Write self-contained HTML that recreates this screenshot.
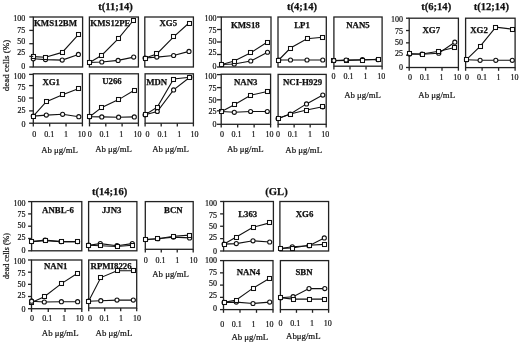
<!DOCTYPE html>
<html><head><meta charset="utf-8"><style>
html,body{margin:0;padding:0;background:#fff;}
svg{filter:blur(0.3px);will-change:transform;display:block;font-family:"Liberation Serif", serif;}
.r{stroke:#111;stroke-width:0.2px;}
.b{stroke:#111;stroke-width:0.25px;}
</style></head><body>
<svg width="520" height="344" viewBox="0 0 520 344">
<rect width="520" height="344" fill="#fff"/>
<g fill="#111">
<path d="M33.30,56.60 L45.50,57.30 L62.20,52.40 L78.40,34.60" fill="none" stroke="#111" stroke-width="1.1"/>
<path d="M33.30,58.80 L45.50,59.60 L62.20,60.10 L78.40,54.40" fill="none" stroke="#111" stroke-width="1.1"/>
<rect x="33.3" y="17" width="49.30" height="50.00" fill="none" stroke="#222" stroke-width="1.3"/>
<text x="55.5" y="26.00" class="b" text-anchor="middle" font-weight="bold" font-size="8.8">KMS12BM</text>
<circle cx="33.3" cy="58.8" r="2.05" fill="#fff" stroke="#111" stroke-width="1.1"/>
<circle cx="45.5" cy="59.6" r="2.05" fill="#fff" stroke="#111" stroke-width="1.1"/>
<circle cx="62.2" cy="60.1" r="2.05" fill="#fff" stroke="#111" stroke-width="1.1"/>
<circle cx="78.4" cy="54.4" r="2.05" fill="#fff" stroke="#111" stroke-width="1.1"/>
<rect x="31.50" y="54.50" width="4" height="4" fill="#fff" stroke="#111" stroke-width="1.05"/>
<rect x="43.50" y="55.50" width="4" height="4" fill="#fff" stroke="#111" stroke-width="1.05"/>
<rect x="60.50" y="50.50" width="4" height="4" fill="#fff" stroke="#111" stroke-width="1.05"/>
<rect x="76.50" y="32.50" width="4" height="4" fill="#fff" stroke="#111" stroke-width="1.05"/>
<line x1="29.30" y1="67.00" x2="33.3" y2="67.00" stroke="#222" stroke-width="1.3"/>
<text x="25.30" y="69.45" class="r" text-anchor="end" font-size="8.0">0</text>
<line x1="29.30" y1="56.40" x2="33.3" y2="56.40" stroke="#222" stroke-width="1.3"/>
<text x="25.30" y="55.40" class="r" text-anchor="end" font-size="8.0">25</text>
<line x1="29.30" y1="43.70" x2="33.3" y2="43.70" stroke="#222" stroke-width="1.3"/>
<text x="25.30" y="43.70" class="r" text-anchor="end" font-size="8.0">50</text>
<line x1="29.30" y1="30.40" x2="33.3" y2="30.40" stroke="#222" stroke-width="1.3"/>
<text x="25.30" y="32.70" class="r" text-anchor="end" font-size="8.0">75</text>
<line x1="29.30" y1="17.00" x2="33.3" y2="17.00" stroke="#222" stroke-width="1.3"/>
<text x="25.30" y="20.75" class="r" text-anchor="end" font-size="8.0">100</text>
<path d="M89.60,62.50 L101.80,55.20 L118.10,38.90 L133.70,20.00" fill="none" stroke="#111" stroke-width="1.1"/>
<path d="M89.60,62.50 L101.80,62.00 L118.10,60.40 L133.70,57.10" fill="none" stroke="#111" stroke-width="1.1"/>
<rect x="89.4" y="17" width="49.00" height="50.00" fill="none" stroke="#222" stroke-width="1.3"/>
<text x="110.4" y="26.00" class="b" text-anchor="middle" font-weight="bold" font-size="8.8">KMS12PE</text>
<circle cx="89.6" cy="62.5" r="2.05" fill="#fff" stroke="#111" stroke-width="1.1"/>
<circle cx="101.8" cy="62" r="2.05" fill="#fff" stroke="#111" stroke-width="1.1"/>
<circle cx="118.1" cy="60.4" r="2.05" fill="#fff" stroke="#111" stroke-width="1.1"/>
<circle cx="133.7" cy="57.1" r="2.05" fill="#fff" stroke="#111" stroke-width="1.1"/>
<rect x="87.50" y="60.50" width="4" height="4" fill="#fff" stroke="#111" stroke-width="1.05"/>
<rect x="99.50" y="53.50" width="4" height="4" fill="#fff" stroke="#111" stroke-width="1.05"/>
<rect x="116.50" y="36.50" width="4" height="4" fill="#fff" stroke="#111" stroke-width="1.05"/>
<rect x="131.50" y="18.50" width="4" height="4" fill="#fff" stroke="#111" stroke-width="1.05"/>
<path d="M145.10,58.00 L156.80,53.90 L173.60,36.80 L189.00,23.00" fill="none" stroke="#111" stroke-width="1.1"/>
<path d="M145.10,58.00 L156.80,57.10 L173.60,55.50 L189.00,51.40" fill="none" stroke="#111" stroke-width="1.1"/>
<rect x="144.8" y="17" width="48.60" height="50.00" fill="none" stroke="#222" stroke-width="1.3"/>
<text x="168.3" y="26.30" class="b" text-anchor="middle" font-weight="bold" font-size="8.8">XG5</text>
<circle cx="145.1" cy="58" r="2.05" fill="#fff" stroke="#111" stroke-width="1.1"/>
<circle cx="156.8" cy="57.1" r="2.05" fill="#fff" stroke="#111" stroke-width="1.1"/>
<circle cx="173.6" cy="55.5" r="2.05" fill="#fff" stroke="#111" stroke-width="1.1"/>
<circle cx="189" cy="51.4" r="2.05" fill="#fff" stroke="#111" stroke-width="1.1"/>
<rect x="143.50" y="56.50" width="4" height="4" fill="#fff" stroke="#111" stroke-width="1.05"/>
<rect x="154.50" y="51.50" width="4" height="4" fill="#fff" stroke="#111" stroke-width="1.05"/>
<rect x="171.50" y="34.50" width="4" height="4" fill="#fff" stroke="#111" stroke-width="1.05"/>
<rect x="187.50" y="21.50" width="4" height="4" fill="#fff" stroke="#111" stroke-width="1.05"/>
<path d="M33.30,116.10 L46.30,101.70 L62.60,94.70 L78.80,88.40" fill="none" stroke="#111" stroke-width="1.1"/>
<path d="M33.30,116.10 L46.30,115.10 L62.60,114.30 L78.80,116.70" fill="none" stroke="#111" stroke-width="1.1"/>
<rect x="33.3" y="73.8" width="49.10" height="49.40" fill="none" stroke="#222" stroke-width="1.3"/>
<text x="51.2" y="84.70" class="b" text-anchor="middle" font-weight="bold" font-size="8.8">XG1</text>
<circle cx="33.3" cy="116.1" r="2.05" fill="#fff" stroke="#111" stroke-width="1.1"/>
<circle cx="46.3" cy="115.1" r="2.05" fill="#fff" stroke="#111" stroke-width="1.1"/>
<circle cx="62.6" cy="114.3" r="2.05" fill="#fff" stroke="#111" stroke-width="1.1"/>
<circle cx="78.8" cy="116.7" r="2.05" fill="#fff" stroke="#111" stroke-width="1.1"/>
<rect x="31.50" y="114.50" width="4" height="4" fill="#fff" stroke="#111" stroke-width="1.05"/>
<rect x="44.50" y="99.50" width="4" height="4" fill="#fff" stroke="#111" stroke-width="1.05"/>
<rect x="60.50" y="92.50" width="4" height="4" fill="#fff" stroke="#111" stroke-width="1.05"/>
<rect x="76.50" y="86.50" width="4" height="4" fill="#fff" stroke="#111" stroke-width="1.05"/>
<line x1="29.10" y1="123.20" x2="33.3" y2="123.20" stroke="#222" stroke-width="1.3"/>
<text x="25.60" y="127.10" class="r" text-anchor="end" font-size="8.0">0</text>
<line x1="29.10" y1="110.90" x2="33.3" y2="110.90" stroke="#222" stroke-width="1.3"/>
<text x="25.60" y="113.30" class="r" text-anchor="end" font-size="8.0">25</text>
<line x1="29.10" y1="98.00" x2="33.3" y2="98.00" stroke="#222" stroke-width="1.3"/>
<text x="25.60" y="101.70" class="r" text-anchor="end" font-size="8.0">50</text>
<line x1="29.10" y1="85.60" x2="33.3" y2="85.60" stroke="#222" stroke-width="1.3"/>
<text x="25.60" y="90.00" class="r" text-anchor="end" font-size="8.0">75</text>
<line x1="29.10" y1="74.40" x2="33.3" y2="74.40" stroke="#222" stroke-width="1.3"/>
<text x="25.60" y="79.00" class="r" text-anchor="end" font-size="8.0">100</text>
<line x1="33.30" y1="123.2" x2="33.30" y2="126.40" stroke="#222" stroke-width="1.3"/>
<text x="34.30" y="136.80" class="r" text-anchor="middle" font-size="8.0">0</text>
<line x1="49.67" y1="123.2" x2="49.67" y2="126.40" stroke="#222" stroke-width="1.3"/>
<text x="49.20" y="136.80" class="r" text-anchor="middle" font-size="8.0">0.1</text>
<line x1="66.03" y1="123.2" x2="66.03" y2="126.40" stroke="#222" stroke-width="1.3"/>
<text x="66.10" y="136.80" class="r" text-anchor="middle" font-size="8.0">1</text>
<line x1="82.40" y1="123.2" x2="82.40" y2="126.40" stroke="#222" stroke-width="1.3"/>
<text x="81.70" y="136.80" class="r" text-anchor="middle" font-size="8.0">10</text>
<path d="M89.60,116.70 L101.80,107.40 L118.60,99.60 L134.30,90.30" fill="none" stroke="#111" stroke-width="1.1"/>
<path d="M89.60,116.70 L101.80,116.90 L118.60,117.20 L134.30,116.90" fill="none" stroke="#111" stroke-width="1.1"/>
<rect x="89.5" y="73.8" width="48.90" height="49.40" fill="none" stroke="#222" stroke-width="1.3"/>
<text x="112" y="84.40" class="b" text-anchor="middle" font-weight="bold" font-size="8.8">U266</text>
<circle cx="89.6" cy="116.7" r="2.05" fill="#fff" stroke="#111" stroke-width="1.1"/>
<circle cx="101.8" cy="116.9" r="2.05" fill="#fff" stroke="#111" stroke-width="1.1"/>
<circle cx="118.6" cy="117.2" r="2.05" fill="#fff" stroke="#111" stroke-width="1.1"/>
<circle cx="134.3" cy="116.9" r="2.05" fill="#fff" stroke="#111" stroke-width="1.1"/>
<rect x="87.50" y="114.50" width="4" height="4" fill="#fff" stroke="#111" stroke-width="1.05"/>
<rect x="99.50" y="105.50" width="4" height="4" fill="#fff" stroke="#111" stroke-width="1.05"/>
<rect x="116.50" y="97.50" width="4" height="4" fill="#fff" stroke="#111" stroke-width="1.05"/>
<rect x="132.50" y="88.50" width="4" height="4" fill="#fff" stroke="#111" stroke-width="1.05"/>
<line x1="89.50" y1="123.2" x2="89.50" y2="126.40" stroke="#222" stroke-width="1.3"/>
<text x="89.80" y="136.90" class="r" text-anchor="middle" font-size="8.0">0</text>
<line x1="105.80" y1="123.2" x2="105.80" y2="126.40" stroke="#222" stroke-width="1.3"/>
<text x="104.50" y="136.90" class="r" text-anchor="middle" font-size="8.0">0.1</text>
<line x1="122.10" y1="123.2" x2="122.10" y2="126.40" stroke="#222" stroke-width="1.3"/>
<text x="121.20" y="136.90" class="r" text-anchor="middle" font-size="8.0">1</text>
<line x1="138.40" y1="123.2" x2="138.40" y2="126.40" stroke="#222" stroke-width="1.3"/>
<text x="137.40" y="136.90" class="r" text-anchor="middle" font-size="8.0">10</text>
<path d="M145.10,114.80 L157.30,107.10 L173.60,79.00 L189.80,77.30" fill="none" stroke="#111" stroke-width="1.1"/>
<path d="M145.10,114.80 L157.30,111.50 L173.60,89.90 L189.80,77.30" fill="none" stroke="#111" stroke-width="1.1"/>
<rect x="145.1" y="73.8" width="48.30" height="49.40" fill="none" stroke="#222" stroke-width="1.3"/>
<text x="156.7" y="84.70" class="b" text-anchor="middle" font-weight="bold" font-size="8.8">MDN</text>
<circle cx="145.1" cy="114.8" r="2.05" fill="#fff" stroke="#111" stroke-width="1.1"/>
<circle cx="157.3" cy="111.5" r="2.05" fill="#fff" stroke="#111" stroke-width="1.1"/>
<circle cx="173.6" cy="89.9" r="2.05" fill="#fff" stroke="#111" stroke-width="1.1"/>
<circle cx="189.8" cy="77.3" r="2.05" fill="#fff" stroke="#111" stroke-width="1.1"/>
<rect x="143.50" y="112.50" width="4" height="4" fill="#fff" stroke="#111" stroke-width="1.05"/>
<rect x="155.50" y="105.50" width="4" height="4" fill="#fff" stroke="#111" stroke-width="1.05"/>
<rect x="171.50" y="77.50" width="4" height="4" fill="#fff" stroke="#111" stroke-width="1.05"/>
<rect x="187.50" y="75.50" width="4" height="4" fill="#fff" stroke="#111" stroke-width="1.05"/>
<line x1="145.10" y1="123.2" x2="145.10" y2="126.40" stroke="#222" stroke-width="1.3"/>
<text x="147.50" y="136.80" class="r" text-anchor="middle" font-size="8.0">0</text>
<line x1="161.20" y1="123.2" x2="161.20" y2="126.40" stroke="#222" stroke-width="1.3"/>
<text x="162.50" y="136.80" class="r" text-anchor="middle" font-size="8.0">0.1</text>
<line x1="177.30" y1="123.2" x2="177.30" y2="126.40" stroke="#222" stroke-width="1.3"/>
<text x="179.20" y="136.80" class="r" text-anchor="middle" font-size="8.0">1</text>
<line x1="193.40" y1="123.2" x2="193.40" y2="126.40" stroke="#222" stroke-width="1.3"/>
<text x="194.50" y="136.80" class="r" text-anchor="middle" font-size="8.0">10</text>
<path d="M221.75,64.50 L234.25,61.00 L250.75,52.75 L267.50,42.00" fill="none" stroke="#111" stroke-width="1.1"/>
<path d="M221.75,64.50 L234.25,64.00 L250.75,61.00 L267.50,52.25" fill="none" stroke="#111" stroke-width="1.1"/>
<rect x="221.3" y="17" width="49.70" height="50.00" fill="none" stroke="#222" stroke-width="1.3"/>
<text x="245.3" y="28.00" class="b" text-anchor="middle" font-weight="bold" font-size="8.8">KMS18</text>
<circle cx="221.75" cy="64.5" r="2.05" fill="#fff" stroke="#111" stroke-width="1.1"/>
<circle cx="234.25" cy="64" r="2.05" fill="#fff" stroke="#111" stroke-width="1.1"/>
<circle cx="250.75" cy="61" r="2.05" fill="#fff" stroke="#111" stroke-width="1.1"/>
<circle cx="267.5" cy="52.25" r="2.05" fill="#fff" stroke="#111" stroke-width="1.1"/>
<rect x="219.50" y="62.50" width="4" height="4" fill="#fff" stroke="#111" stroke-width="1.05"/>
<rect x="232.50" y="59.50" width="4" height="4" fill="#fff" stroke="#111" stroke-width="1.05"/>
<rect x="248.50" y="50.50" width="4" height="4" fill="#fff" stroke="#111" stroke-width="1.05"/>
<rect x="265.50" y="40.50" width="4" height="4" fill="#fff" stroke="#111" stroke-width="1.05"/>
<line x1="217.00" y1="67.00" x2="221.3" y2="67.00" stroke="#222" stroke-width="1.3"/>
<text x="216.60" y="69.10" class="r" text-anchor="end" font-size="8.0">0</text>
<line x1="217.00" y1="54.50" x2="221.3" y2="54.50" stroke="#222" stroke-width="1.3"/>
<text x="216.60" y="55.40" class="r" text-anchor="end" font-size="8.0">25</text>
<line x1="217.00" y1="42.00" x2="221.3" y2="42.00" stroke="#222" stroke-width="1.3"/>
<text x="216.60" y="44.20" class="r" text-anchor="end" font-size="8.0">50</text>
<line x1="217.00" y1="29.50" x2="221.3" y2="29.50" stroke="#222" stroke-width="1.3"/>
<text x="216.60" y="32.70" class="r" text-anchor="end" font-size="8.0">75</text>
<line x1="217.00" y1="17.00" x2="221.3" y2="17.00" stroke="#222" stroke-width="1.3"/>
<text x="216.60" y="21.00" class="r" text-anchor="end" font-size="8.0">100</text>
<path d="M278.75,60.00 L290.50,48.00 L307.00,38.75 L322.75,37.25" fill="none" stroke="#111" stroke-width="1.1"/>
<path d="M278.75,60.00 L290.50,60.00 L307.00,60.00 L322.75,60.00" fill="none" stroke="#111" stroke-width="1.1"/>
<rect x="278" y="17" width="48.30" height="50.00" fill="none" stroke="#222" stroke-width="1.3"/>
<text x="302" y="28.00" class="b" text-anchor="middle" font-weight="bold" font-size="8.8">LP1</text>
<circle cx="278.75" cy="60" r="2.05" fill="#fff" stroke="#111" stroke-width="1.1"/>
<circle cx="290.5" cy="60" r="2.05" fill="#fff" stroke="#111" stroke-width="1.1"/>
<circle cx="307" cy="60" r="2.05" fill="#fff" stroke="#111" stroke-width="1.1"/>
<circle cx="322.75" cy="60" r="2.05" fill="#fff" stroke="#111" stroke-width="1.1"/>
<rect x="276.50" y="58.50" width="4" height="4" fill="#fff" stroke="#111" stroke-width="1.05"/>
<rect x="288.50" y="46.50" width="4" height="4" fill="#fff" stroke="#111" stroke-width="1.05"/>
<rect x="305.50" y="36.50" width="4" height="4" fill="#fff" stroke="#111" stroke-width="1.05"/>
<rect x="320.50" y="35.50" width="4" height="4" fill="#fff" stroke="#111" stroke-width="1.05"/>
<path d="M333.90,60.80 L346.10,60.40 L362.40,60.00 L378.00,59.30" fill="none" stroke="#111" stroke-width="1.1"/>
<path d="M333.90,60.50 L346.10,60.00 L362.40,59.70 L378.00,59.60" fill="none" stroke="#111" stroke-width="1.1"/>
<rect x="333.9" y="17" width="48.20" height="49.20" fill="none" stroke="#222" stroke-width="1.3"/>
<text x="358" y="28.00" class="b" text-anchor="middle" font-weight="bold" font-size="8.8">NAN5</text>
<rect x="331.50" y="58.50" width="4" height="4" fill="#fff" stroke="#111" stroke-width="1.05"/>
<circle cx="333.9" cy="60.5" r="2.05" fill="#fff" stroke="#111" stroke-width="1.1"/>
<rect x="344.50" y="58.50" width="4" height="4" fill="#fff" stroke="#111" stroke-width="1.05"/>
<circle cx="346.1" cy="60.0" r="2.05" fill="#fff" stroke="#111" stroke-width="1.1"/>
<circle cx="362.4" cy="59.7" r="2.05" fill="#fff" stroke="#111" stroke-width="1.1"/>
<rect x="360.50" y="58.50" width="4" height="4" fill="#fff" stroke="#111" stroke-width="1.05"/>
<circle cx="378" cy="59.6" r="2.05" fill="#fff" stroke="#111" stroke-width="1.1"/>
<rect x="376.50" y="57.50" width="4" height="4" fill="#fff" stroke="#111" stroke-width="1.05"/>
<line x1="333.90" y1="66.2" x2="333.90" y2="69.40" stroke="#222" stroke-width="1.3"/>
<text x="333.50" y="79.10" class="r" text-anchor="middle" font-size="8.0">0</text>
<line x1="349.97" y1="66.2" x2="349.97" y2="69.40" stroke="#222" stroke-width="1.3"/>
<text x="348.60" y="79.10" class="r" text-anchor="middle" font-size="8.0">0.1</text>
<line x1="366.03" y1="66.2" x2="366.03" y2="69.40" stroke="#222" stroke-width="1.3"/>
<text x="365.60" y="79.10" class="r" text-anchor="middle" font-size="8.0">1</text>
<line x1="382.10" y1="66.2" x2="382.10" y2="69.40" stroke="#222" stroke-width="1.3"/>
<text x="381.20" y="79.10" class="r" text-anchor="middle" font-size="8.0">10</text>
<path d="M221.60,111.50 L234.30,104.70 L250.60,95.20 L267.30,91.50" fill="none" stroke="#111" stroke-width="1.1"/>
<path d="M221.60,111.50 L234.30,112.30 L250.60,111.50 L267.30,111.50" fill="none" stroke="#111" stroke-width="1.1"/>
<rect x="221.2" y="74.2" width="49.40" height="50.10" fill="none" stroke="#222" stroke-width="1.3"/>
<text x="245.7" y="85.20" class="b" text-anchor="middle" font-weight="bold" font-size="8.8">NAN3</text>
<circle cx="221.6" cy="111.5" r="2.05" fill="#fff" stroke="#111" stroke-width="1.1"/>
<circle cx="234.3" cy="112.3" r="2.05" fill="#fff" stroke="#111" stroke-width="1.1"/>
<circle cx="250.6" cy="111.5" r="2.05" fill="#fff" stroke="#111" stroke-width="1.1"/>
<circle cx="267.3" cy="111.5" r="2.05" fill="#fff" stroke="#111" stroke-width="1.1"/>
<rect x="219.50" y="109.50" width="4" height="4" fill="#fff" stroke="#111" stroke-width="1.05"/>
<rect x="232.50" y="102.50" width="4" height="4" fill="#fff" stroke="#111" stroke-width="1.05"/>
<rect x="248.50" y="93.50" width="4" height="4" fill="#fff" stroke="#111" stroke-width="1.05"/>
<rect x="265.50" y="89.50" width="4" height="4" fill="#fff" stroke="#111" stroke-width="1.05"/>
<line x1="216.90" y1="124.30" x2="221.2" y2="124.30" stroke="#222" stroke-width="1.3"/>
<text x="216.60" y="127.40" class="r" text-anchor="end" font-size="8.0">0</text>
<line x1="216.90" y1="110.80" x2="221.2" y2="110.80" stroke="#222" stroke-width="1.3"/>
<text x="216.60" y="113.90" class="r" text-anchor="end" font-size="8.0">25</text>
<line x1="216.90" y1="99.80" x2="221.2" y2="99.80" stroke="#222" stroke-width="1.3"/>
<text x="216.60" y="102.60" class="r" text-anchor="end" font-size="8.0">50</text>
<line x1="216.90" y1="87.60" x2="221.2" y2="87.60" stroke="#222" stroke-width="1.3"/>
<text x="216.60" y="90.70" class="r" text-anchor="end" font-size="8.0">75</text>
<line x1="216.90" y1="74.60" x2="221.2" y2="74.60" stroke="#222" stroke-width="1.3"/>
<text x="216.60" y="79.00" class="r" text-anchor="end" font-size="8.0">100</text>
<line x1="221.20" y1="124.3" x2="221.20" y2="127.50" stroke="#222" stroke-width="1.3"/>
<text x="222.00" y="137.00" class="r" text-anchor="middle" font-size="8.0">0</text>
<line x1="237.67" y1="124.3" x2="237.67" y2="127.50" stroke="#222" stroke-width="1.3"/>
<text x="236.60" y="137.00" class="r" text-anchor="middle" font-size="8.0">0.1</text>
<line x1="254.13" y1="124.3" x2="254.13" y2="127.50" stroke="#222" stroke-width="1.3"/>
<text x="253.50" y="137.00" class="r" text-anchor="middle" font-size="8.0">1</text>
<line x1="270.60" y1="124.3" x2="270.60" y2="127.50" stroke="#222" stroke-width="1.3"/>
<text x="269.40" y="137.00" class="r" text-anchor="middle" font-size="8.0">10</text>
<path d="M278.10,118.50 L290.30,114.00 L306.50,110.00 L322.80,106.80" fill="none" stroke="#111" stroke-width="1.1"/>
<path d="M278.10,118.50 L290.30,114.00 L306.50,103.90 L322.80,95.10" fill="none" stroke="#111" stroke-width="1.1"/>
<rect x="278.1" y="74.4" width="48.10" height="49.90" fill="none" stroke="#222" stroke-width="1.3"/>
<text x="302.5" y="85.20" class="b" text-anchor="middle" font-weight="bold" font-size="8.8">NCI-H929</text>
<circle cx="278.1" cy="118.5" r="2.05" fill="#fff" stroke="#111" stroke-width="1.1"/>
<circle cx="290.3" cy="114" r="2.05" fill="#fff" stroke="#111" stroke-width="1.1"/>
<circle cx="306.5" cy="103.9" r="2.05" fill="#fff" stroke="#111" stroke-width="1.1"/>
<circle cx="322.8" cy="95.1" r="2.05" fill="#fff" stroke="#111" stroke-width="1.1"/>
<circle cx="322.8" cy="106.8" r="2.05" fill="#fff" stroke="#111" stroke-width="1.1"/>
<rect x="276.50" y="116.50" width="4" height="4" fill="#fff" stroke="#111" stroke-width="1.05"/>
<rect x="288.50" y="112.50" width="4" height="4" fill="#fff" stroke="#111" stroke-width="1.05"/>
<rect x="304.50" y="108.50" width="4" height="4" fill="#fff" stroke="#111" stroke-width="1.05"/>
<rect x="320.50" y="104.50" width="4" height="4" fill="#fff" stroke="#111" stroke-width="1.05"/>
<line x1="278.10" y1="124.3" x2="278.10" y2="127.50" stroke="#222" stroke-width="1.3"/>
<text x="278.10" y="137.20" class="r" text-anchor="middle" font-size="8.0">0</text>
<line x1="294.13" y1="124.3" x2="294.13" y2="127.50" stroke="#222" stroke-width="1.3"/>
<text x="292.80" y="137.20" class="r" text-anchor="middle" font-size="8.0">0.1</text>
<line x1="310.17" y1="124.3" x2="310.17" y2="127.50" stroke="#222" stroke-width="1.3"/>
<text x="309.90" y="137.20" class="r" text-anchor="middle" font-size="8.0">1</text>
<line x1="326.20" y1="124.3" x2="326.20" y2="127.50" stroke="#222" stroke-width="1.3"/>
<text x="325.30" y="137.20" class="r" text-anchor="middle" font-size="8.0">10</text>
<path d="M409.60,53.90 L422.00,54.00 L438.75,51.25 L454.80,47.50" fill="none" stroke="#111" stroke-width="1.1"/>
<path d="M409.60,54.00 L422.00,54.20 L438.75,53.25 L454.80,42.20" fill="none" stroke="#111" stroke-width="1.1"/>
<rect x="409.2" y="18.2" width="49.20" height="49.30" fill="none" stroke="#222" stroke-width="1.3"/>
<text x="431.25" y="32.50" class="b" text-anchor="middle" font-weight="bold" font-size="8.8">XG7</text>
<circle cx="409.6" cy="54" r="2.05" fill="#fff" stroke="#111" stroke-width="1.1"/>
<circle cx="422" cy="54.2" r="2.05" fill="#fff" stroke="#111" stroke-width="1.1"/>
<circle cx="438.75" cy="53.25" r="2.05" fill="#fff" stroke="#111" stroke-width="1.1"/>
<circle cx="454.8" cy="42.2" r="2.05" fill="#fff" stroke="#111" stroke-width="1.1"/>
<rect x="407.50" y="51.50" width="4" height="4" fill="#fff" stroke="#111" stroke-width="1.05"/>
<rect x="420.50" y="52.50" width="4" height="4" fill="#fff" stroke="#111" stroke-width="1.05"/>
<rect x="436.50" y="49.50" width="4" height="4" fill="#fff" stroke="#111" stroke-width="1.05"/>
<rect x="452.50" y="45.50" width="4" height="4" fill="#fff" stroke="#111" stroke-width="1.05"/>
<line x1="406.00" y1="67.50" x2="409.2" y2="67.50" stroke="#222" stroke-width="1.3"/>
<text x="402.90" y="69.90" class="r" text-anchor="end" font-size="8.0">0</text>
<line x1="406.00" y1="55.17" x2="409.2" y2="55.17" stroke="#222" stroke-width="1.3"/>
<text x="402.90" y="55.90" class="r" text-anchor="end" font-size="8.0">25</text>
<line x1="406.00" y1="42.85" x2="409.2" y2="42.85" stroke="#222" stroke-width="1.3"/>
<text x="402.90" y="45.10" class="r" text-anchor="end" font-size="8.0">50</text>
<line x1="406.00" y1="30.53" x2="409.2" y2="30.53" stroke="#222" stroke-width="1.3"/>
<text x="402.90" y="34.10" class="r" text-anchor="end" font-size="8.0">75</text>
<line x1="406.00" y1="18.20" x2="409.2" y2="18.20" stroke="#222" stroke-width="1.3"/>
<text x="402.90" y="21.80" class="r" text-anchor="end" font-size="8.0">100</text>
<line x1="409.20" y1="67.5" x2="409.20" y2="70.70" stroke="#222" stroke-width="1.3"/>
<text x="410.00" y="79.90" class="r" text-anchor="middle" font-size="8.0">0</text>
<line x1="425.60" y1="67.5" x2="425.60" y2="70.70" stroke="#222" stroke-width="1.3"/>
<text x="424.80" y="79.90" class="r" text-anchor="middle" font-size="8.0">0.1</text>
<line x1="442.00" y1="67.5" x2="442.00" y2="70.70" stroke="#222" stroke-width="1.3"/>
<text x="441.50" y="79.90" class="r" text-anchor="middle" font-size="8.0">1</text>
<line x1="458.40" y1="67.5" x2="458.40" y2="70.70" stroke="#222" stroke-width="1.3"/>
<text x="457.20" y="79.90" class="r" text-anchor="middle" font-size="8.0">10</text>
<path d="M466.50,59.70 L480.10,46.30 L495.80,27.10 L512.30,29.20" fill="none" stroke="#111" stroke-width="1.1"/>
<path d="M466.50,59.70 L480.10,60.30 L495.80,60.30 L512.30,60.30" fill="none" stroke="#111" stroke-width="1.1"/>
<rect x="465.6" y="18.2" width="49.50" height="49.40" fill="none" stroke="#222" stroke-width="1.3"/>
<text x="479" y="32.50" class="b" text-anchor="middle" font-weight="bold" font-size="8.8">XG2</text>
<circle cx="466.5" cy="59.7" r="2.05" fill="#fff" stroke="#111" stroke-width="1.1"/>
<circle cx="480.1" cy="60.3" r="2.05" fill="#fff" stroke="#111" stroke-width="1.1"/>
<circle cx="495.8" cy="60.3" r="2.05" fill="#fff" stroke="#111" stroke-width="1.1"/>
<circle cx="512.3" cy="60.3" r="2.05" fill="#fff" stroke="#111" stroke-width="1.1"/>
<rect x="464.50" y="57.50" width="4" height="4" fill="#fff" stroke="#111" stroke-width="1.05"/>
<rect x="478.50" y="44.50" width="4" height="4" fill="#fff" stroke="#111" stroke-width="1.05"/>
<rect x="493.50" y="25.50" width="4" height="4" fill="#fff" stroke="#111" stroke-width="1.05"/>
<rect x="510.50" y="27.50" width="4" height="4" fill="#fff" stroke="#111" stroke-width="1.05"/>
<line x1="465.60" y1="67.6" x2="465.60" y2="70.80" stroke="#222" stroke-width="1.3"/>
<text x="467.10" y="80.00" class="r" text-anchor="middle" font-size="8.0">0</text>
<line x1="482.10" y1="67.6" x2="482.10" y2="70.80" stroke="#222" stroke-width="1.3"/>
<text x="481.90" y="80.00" class="r" text-anchor="middle" font-size="8.0">0.1</text>
<line x1="498.60" y1="67.6" x2="498.60" y2="70.80" stroke="#222" stroke-width="1.3"/>
<text x="498.50" y="80.00" class="r" text-anchor="middle" font-size="8.0">1</text>
<line x1="515.10" y1="67.6" x2="515.10" y2="70.80" stroke="#222" stroke-width="1.3"/>
<text x="514.50" y="80.00" class="r" text-anchor="middle" font-size="8.0">10</text>
<path d="M31.60,241.60 L45.10,240.80 L61.00,241.60 L77.60,241.60" fill="none" stroke="#111" stroke-width="1.1"/>
<path d="M31.60,241.60 L45.10,240.00 L61.00,241.60 L77.60,241.60" fill="none" stroke="#111" stroke-width="1.1"/>
<rect x="31.6" y="201.6" width="50.20" height="49.20" fill="none" stroke="#222" stroke-width="1.3"/>
<text x="58" y="213.20" class="b" text-anchor="middle" font-weight="bold" font-size="8.8">ANBL-6</text>
<circle cx="31.6" cy="241.6" r="2.05" fill="#fff" stroke="#111" stroke-width="1.1"/>
<circle cx="45.1" cy="240" r="2.05" fill="#fff" stroke="#111" stroke-width="1.1"/>
<circle cx="61" cy="241.6" r="2.05" fill="#fff" stroke="#111" stroke-width="1.1"/>
<circle cx="77.6" cy="241.6" r="2.05" fill="#fff" stroke="#111" stroke-width="1.1"/>
<rect x="29.50" y="239.50" width="4" height="4" fill="#fff" stroke="#111" stroke-width="1.05"/>
<rect x="43.50" y="238.50" width="4" height="4" fill="#fff" stroke="#111" stroke-width="1.05"/>
<rect x="59.50" y="239.50" width="4" height="4" fill="#fff" stroke="#111" stroke-width="1.05"/>
<rect x="75.50" y="239.50" width="4" height="4" fill="#fff" stroke="#111" stroke-width="1.05"/>
<line x1="28.10" y1="250.80" x2="31.6" y2="250.80" stroke="#222" stroke-width="1.3"/>
<text x="25.40" y="253.30" class="r" text-anchor="end" font-size="8.0">0</text>
<line x1="28.10" y1="238.50" x2="31.6" y2="238.50" stroke="#222" stroke-width="1.3"/>
<text x="25.40" y="239.70" class="r" text-anchor="end" font-size="8.0">25</text>
<line x1="28.10" y1="226.20" x2="31.6" y2="226.20" stroke="#222" stroke-width="1.3"/>
<text x="25.40" y="227.90" class="r" text-anchor="end" font-size="8.0">50</text>
<line x1="28.10" y1="213.90" x2="31.6" y2="213.90" stroke="#222" stroke-width="1.3"/>
<text x="25.40" y="216.90" class="r" text-anchor="end" font-size="8.0">75</text>
<line x1="28.10" y1="201.60" x2="31.6" y2="201.60" stroke="#222" stroke-width="1.3"/>
<text x="25.40" y="205.70" class="r" text-anchor="end" font-size="8.0">100</text>
<path d="M88.60,245.20 L100.30,245.70 L117.00,246.50 L132.30,245.20" fill="none" stroke="#111" stroke-width="1.1"/>
<path d="M88.60,245.20 L100.30,243.60 L117.00,245.70 L132.30,243.60" fill="none" stroke="#111" stroke-width="1.1"/>
<rect x="88.6" y="201.6" width="48.30" height="49.20" fill="none" stroke="#222" stroke-width="1.3"/>
<text x="111.7" y="213.20" class="b" text-anchor="middle" font-weight="bold" font-size="8.8">JJN3</text>
<circle cx="88.6" cy="245.2" r="2.05" fill="#fff" stroke="#111" stroke-width="1.1"/>
<circle cx="100.3" cy="243.6" r="2.05" fill="#fff" stroke="#111" stroke-width="1.1"/>
<circle cx="117" cy="245.7" r="2.05" fill="#fff" stroke="#111" stroke-width="1.1"/>
<circle cx="132.3" cy="243.6" r="2.05" fill="#fff" stroke="#111" stroke-width="1.1"/>
<rect x="86.50" y="243.50" width="4" height="4" fill="#fff" stroke="#111" stroke-width="1.05"/>
<rect x="98.50" y="243.50" width="4" height="4" fill="#fff" stroke="#111" stroke-width="1.05"/>
<rect x="115.50" y="244.50" width="4" height="4" fill="#fff" stroke="#111" stroke-width="1.05"/>
<rect x="130.50" y="243.50" width="4" height="4" fill="#fff" stroke="#111" stroke-width="1.05"/>
<path d="M145.70,239.50 L157.90,238.70 L173.40,236.30 L189.60,235.10" fill="none" stroke="#111" stroke-width="1.1"/>
<path d="M145.70,239.50 L157.90,238.70 L173.40,237.10 L189.60,237.90" fill="none" stroke="#111" stroke-width="1.1"/>
<rect x="145.3" y="201.6" width="47.90" height="47.70" fill="none" stroke="#222" stroke-width="1.3"/>
<text x="173.4" y="213.20" class="b" text-anchor="middle" font-weight="bold" font-size="8.8">BCN</text>
<circle cx="145.7" cy="239.5" r="2.05" fill="#fff" stroke="#111" stroke-width="1.1"/>
<circle cx="157.9" cy="238.7" r="2.05" fill="#fff" stroke="#111" stroke-width="1.1"/>
<circle cx="173.4" cy="237.1" r="2.05" fill="#fff" stroke="#111" stroke-width="1.1"/>
<circle cx="189.6" cy="237.9" r="2.05" fill="#fff" stroke="#111" stroke-width="1.1"/>
<rect x="143.50" y="237.50" width="4" height="4" fill="#fff" stroke="#111" stroke-width="1.05"/>
<rect x="155.50" y="236.50" width="4" height="4" fill="#fff" stroke="#111" stroke-width="1.05"/>
<rect x="171.50" y="234.50" width="4" height="4" fill="#fff" stroke="#111" stroke-width="1.05"/>
<rect x="187.50" y="233.50" width="4" height="4" fill="#fff" stroke="#111" stroke-width="1.05"/>
<line x1="145.30" y1="249.3" x2="145.30" y2="252.50" stroke="#222" stroke-width="1.3"/>
<text x="145.80" y="262.60" class="r" text-anchor="middle" font-size="8.0">0</text>
<line x1="161.27" y1="249.3" x2="161.27" y2="252.50" stroke="#222" stroke-width="1.3"/>
<text x="160.60" y="262.60" class="r" text-anchor="middle" font-size="8.0">0.1</text>
<line x1="177.23" y1="249.3" x2="177.23" y2="252.50" stroke="#222" stroke-width="1.3"/>
<text x="177.20" y="262.60" class="r" text-anchor="middle" font-size="8.0">1</text>
<line x1="193.20" y1="249.3" x2="193.20" y2="252.50" stroke="#222" stroke-width="1.3"/>
<text x="193.40" y="262.60" class="r" text-anchor="middle" font-size="8.0">10</text>
<path d="M31.60,302.50 L44.30,296.70 L61.40,283.60 L77.60,273.20" fill="none" stroke="#111" stroke-width="1.1"/>
<path d="M31.60,301.20 L44.30,302.00 L61.40,301.70 L77.60,301.70" fill="none" stroke="#111" stroke-width="1.1"/>
<rect x="31.5" y="260" width="50.30" height="48.70" fill="none" stroke="#222" stroke-width="1.3"/>
<text x="55.7" y="269.20" class="b" text-anchor="middle" font-weight="bold" font-size="8.8">NAN1</text>
<circle cx="31.6" cy="301.2" r="2.05" fill="#fff" stroke="#111" stroke-width="1.1"/>
<circle cx="44.3" cy="302" r="2.05" fill="#fff" stroke="#111" stroke-width="1.1"/>
<circle cx="61.4" cy="301.7" r="2.05" fill="#fff" stroke="#111" stroke-width="1.1"/>
<circle cx="77.6" cy="301.7" r="2.05" fill="#fff" stroke="#111" stroke-width="1.1"/>
<rect x="29.50" y="300.50" width="4" height="4" fill="#fff" stroke="#111" stroke-width="1.05"/>
<rect x="42.50" y="294.50" width="4" height="4" fill="#fff" stroke="#111" stroke-width="1.05"/>
<rect x="59.50" y="281.50" width="4" height="4" fill="#fff" stroke="#111" stroke-width="1.05"/>
<rect x="75.50" y="271.50" width="4" height="4" fill="#fff" stroke="#111" stroke-width="1.05"/>
<circle cx="31.6" cy="301.2" r="2.05" fill="#fff" stroke="#111" stroke-width="1.1"/>
<line x1="28.00" y1="308.70" x2="31.5" y2="308.70" stroke="#222" stroke-width="1.3"/>
<text x="25.40" y="312.20" class="r" text-anchor="end" font-size="8.0">0</text>
<line x1="28.00" y1="296.52" x2="31.5" y2="296.52" stroke="#222" stroke-width="1.3"/>
<text x="25.40" y="298.20" class="r" text-anchor="end" font-size="8.0">25</text>
<line x1="28.00" y1="284.35" x2="31.5" y2="284.35" stroke="#222" stroke-width="1.3"/>
<text x="25.40" y="286.80" class="r" text-anchor="end" font-size="8.0">50</text>
<line x1="28.00" y1="272.18" x2="31.5" y2="272.18" stroke="#222" stroke-width="1.3"/>
<text x="25.40" y="275.50" class="r" text-anchor="end" font-size="8.0">75</text>
<line x1="28.00" y1="260.00" x2="31.5" y2="260.00" stroke="#222" stroke-width="1.3"/>
<text x="25.40" y="264.10" class="r" text-anchor="end" font-size="8.0">100</text>
<line x1="31.50" y1="308.7" x2="31.50" y2="311.90" stroke="#222" stroke-width="1.3"/>
<text x="32.10" y="321.10" class="r" text-anchor="middle" font-size="8.0">0</text>
<line x1="48.27" y1="308.7" x2="48.27" y2="311.90" stroke="#222" stroke-width="1.3"/>
<text x="47.20" y="321.10" class="r" text-anchor="middle" font-size="8.0">0.1</text>
<line x1="65.03" y1="308.7" x2="65.03" y2="311.90" stroke="#222" stroke-width="1.3"/>
<text x="64.10" y="321.10" class="r" text-anchor="middle" font-size="8.0">1</text>
<line x1="81.80" y1="308.7" x2="81.80" y2="311.90" stroke="#222" stroke-width="1.3"/>
<text x="79.70" y="321.10" class="r" text-anchor="middle" font-size="8.0">10</text>
<path d="M88.60,301.20 L100.80,277.60 L117.00,270.80 L133.30,270.80" fill="none" stroke="#111" stroke-width="1.1"/>
<path d="M88.60,301.20 L100.80,300.70 L117.00,300.10 L133.30,300.10" fill="none" stroke="#111" stroke-width="1.1"/>
<rect x="88.7" y="260" width="48.00" height="48.00" fill="none" stroke="#222" stroke-width="1.3"/>
<text x="111.1" y="268.70" class="b" text-anchor="middle" font-weight="bold" font-size="8.8">RPMI8226</text>
<circle cx="88.6" cy="301.2" r="2.05" fill="#fff" stroke="#111" stroke-width="1.1"/>
<circle cx="100.8" cy="300.7" r="2.05" fill="#fff" stroke="#111" stroke-width="1.1"/>
<circle cx="117" cy="300.1" r="2.05" fill="#fff" stroke="#111" stroke-width="1.1"/>
<circle cx="133.3" cy="300.1" r="2.05" fill="#fff" stroke="#111" stroke-width="1.1"/>
<rect x="86.50" y="299.50" width="4" height="4" fill="#fff" stroke="#111" stroke-width="1.05"/>
<rect x="98.50" y="275.50" width="4" height="4" fill="#fff" stroke="#111" stroke-width="1.05"/>
<rect x="115.50" y="268.50" width="4" height="4" fill="#fff" stroke="#111" stroke-width="1.05"/>
<rect x="131.50" y="268.50" width="4" height="4" fill="#fff" stroke="#111" stroke-width="1.05"/>
<line x1="88.70" y1="308" x2="88.70" y2="311.20" stroke="#222" stroke-width="1.3"/>
<text x="89.90" y="321.10" class="r" text-anchor="middle" font-size="8.0">0</text>
<line x1="104.70" y1="308" x2="104.70" y2="311.20" stroke="#222" stroke-width="1.3"/>
<text x="104.40" y="321.10" class="r" text-anchor="middle" font-size="8.0">0.1</text>
<line x1="120.70" y1="308" x2="120.70" y2="311.20" stroke="#222" stroke-width="1.3"/>
<text x="121.10" y="321.10" class="r" text-anchor="middle" font-size="8.0">1</text>
<line x1="136.70" y1="308" x2="136.70" y2="311.20" stroke="#222" stroke-width="1.3"/>
<text x="137.00" y="321.10" class="r" text-anchor="middle" font-size="8.0">10</text>
<path d="M224.10,244.10 L236.30,237.10 L253.00,227.30 L269.70,222.90" fill="none" stroke="#111" stroke-width="1.1"/>
<path d="M224.10,244.10 L236.30,243.60 L253.00,240.80 L269.70,242.00" fill="none" stroke="#111" stroke-width="1.1"/>
<rect x="223.6" y="201.5" width="49.80" height="49.50" fill="none" stroke="#222" stroke-width="1.3"/>
<text x="247.7" y="216.50" class="b" text-anchor="middle" font-weight="bold" font-size="8.8">L363</text>
<circle cx="224.1" cy="244.1" r="2.05" fill="#fff" stroke="#111" stroke-width="1.1"/>
<circle cx="236.3" cy="243.6" r="2.05" fill="#fff" stroke="#111" stroke-width="1.1"/>
<circle cx="253" cy="240.8" r="2.05" fill="#fff" stroke="#111" stroke-width="1.1"/>
<circle cx="269.7" cy="242" r="2.05" fill="#fff" stroke="#111" stroke-width="1.1"/>
<rect x="222.50" y="242.50" width="4" height="4" fill="#fff" stroke="#111" stroke-width="1.05"/>
<rect x="234.50" y="235.50" width="4" height="4" fill="#fff" stroke="#111" stroke-width="1.05"/>
<rect x="251.50" y="225.50" width="4" height="4" fill="#fff" stroke="#111" stroke-width="1.05"/>
<rect x="267.50" y="220.50" width="4" height="4" fill="#fff" stroke="#111" stroke-width="1.05"/>
<line x1="220.10" y1="251.00" x2="223.6" y2="251.00" stroke="#222" stroke-width="1.3"/>
<text x="216.90" y="254.20" class="r" text-anchor="end" font-size="8.0">0</text>
<line x1="220.10" y1="238.62" x2="223.6" y2="238.62" stroke="#222" stroke-width="1.3"/>
<text x="216.90" y="240.20" class="r" text-anchor="end" font-size="8.0">25</text>
<line x1="220.10" y1="226.25" x2="223.6" y2="226.25" stroke="#222" stroke-width="1.3"/>
<text x="216.90" y="228.80" class="r" text-anchor="end" font-size="8.0">50</text>
<line x1="220.10" y1="213.88" x2="223.6" y2="213.88" stroke="#222" stroke-width="1.3"/>
<text x="216.90" y="217.50" class="r" text-anchor="end" font-size="8.0">75</text>
<line x1="220.10" y1="201.50" x2="223.6" y2="201.50" stroke="#222" stroke-width="1.3"/>
<text x="216.90" y="206.10" class="r" text-anchor="end" font-size="8.0">100</text>
<path d="M280.60,248.50 L292.30,248.00 L309.00,245.20 L324.30,244.40" fill="none" stroke="#111" stroke-width="1.1"/>
<path d="M280.60,248.50 L292.30,246.80 L309.00,245.70 L324.30,237.90" fill="none" stroke="#111" stroke-width="1.1"/>
<rect x="279.9" y="201.5" width="48.70" height="49.50" fill="none" stroke="#222" stroke-width="1.3"/>
<text x="304.5" y="216.80" class="b" text-anchor="middle" font-weight="bold" font-size="8.8">XG6</text>
<circle cx="280.6" cy="248.5" r="2.05" fill="#fff" stroke="#111" stroke-width="1.1"/>
<circle cx="292.3" cy="246.8" r="2.05" fill="#fff" stroke="#111" stroke-width="1.1"/>
<circle cx="309" cy="245.7" r="2.05" fill="#fff" stroke="#111" stroke-width="1.1"/>
<circle cx="324.3" cy="237.9" r="2.05" fill="#fff" stroke="#111" stroke-width="1.1"/>
<rect x="278.50" y="246.50" width="4" height="4" fill="#fff" stroke="#111" stroke-width="1.05"/>
<rect x="290.50" y="246.50" width="4" height="4" fill="#fff" stroke="#111" stroke-width="1.05"/>
<rect x="307.50" y="243.50" width="4" height="4" fill="#fff" stroke="#111" stroke-width="1.05"/>
<rect x="322.50" y="242.50" width="4" height="4" fill="#fff" stroke="#111" stroke-width="1.05"/>
<path d="M224.10,302.40 L236.30,300.00 L253.00,288.10 L269.70,278.30" fill="none" stroke="#111" stroke-width="1.1"/>
<path d="M224.10,302.40 L236.30,302.10 L253.00,303.50 L269.70,302.10" fill="none" stroke="#111" stroke-width="1.1"/>
<rect x="223.5" y="260.6" width="49.50" height="49.00" fill="none" stroke="#222" stroke-width="1.3"/>
<text x="248.5" y="274.80" class="b" text-anchor="middle" font-weight="bold" font-size="8.8">NAN4</text>
<circle cx="224.1" cy="302.4" r="2.05" fill="#fff" stroke="#111" stroke-width="1.1"/>
<circle cx="236.3" cy="302.1" r="2.05" fill="#fff" stroke="#111" stroke-width="1.1"/>
<circle cx="253" cy="303.5" r="2.05" fill="#fff" stroke="#111" stroke-width="1.1"/>
<circle cx="269.7" cy="302.1" r="2.05" fill="#fff" stroke="#111" stroke-width="1.1"/>
<rect x="222.50" y="300.50" width="4" height="4" fill="#fff" stroke="#111" stroke-width="1.05"/>
<rect x="234.50" y="298.50" width="4" height="4" fill="#fff" stroke="#111" stroke-width="1.05"/>
<rect x="251.50" y="286.50" width="4" height="4" fill="#fff" stroke="#111" stroke-width="1.05"/>
<rect x="267.50" y="276.50" width="4" height="4" fill="#fff" stroke="#111" stroke-width="1.05"/>
<line x1="220.00" y1="309.60" x2="223.5" y2="309.60" stroke="#222" stroke-width="1.3"/>
<text x="216.90" y="311.30" class="r" text-anchor="end" font-size="8.0">0</text>
<line x1="220.00" y1="297.35" x2="223.5" y2="297.35" stroke="#222" stroke-width="1.3"/>
<text x="216.90" y="297.70" class="r" text-anchor="end" font-size="8.0">25</text>
<line x1="220.00" y1="285.10" x2="223.5" y2="285.10" stroke="#222" stroke-width="1.3"/>
<text x="216.90" y="285.90" class="r" text-anchor="end" font-size="8.0">50</text>
<line x1="220.00" y1="272.85" x2="223.5" y2="272.85" stroke="#222" stroke-width="1.3"/>
<text x="216.90" y="274.90" class="r" text-anchor="end" font-size="8.0">75</text>
<line x1="220.00" y1="260.60" x2="223.5" y2="260.60" stroke="#222" stroke-width="1.3"/>
<text x="216.90" y="263.20" class="r" text-anchor="end" font-size="8.0">100</text>
<line x1="223.50" y1="309.6" x2="223.50" y2="312.80" stroke="#222" stroke-width="1.3"/>
<text x="222.30" y="326.50" class="r" text-anchor="middle" font-size="8.0">0</text>
<line x1="240.00" y1="309.6" x2="240.00" y2="312.80" stroke="#222" stroke-width="1.3"/>
<text x="236.80" y="326.50" class="r" text-anchor="middle" font-size="8.0">0.1</text>
<line x1="256.50" y1="309.6" x2="256.50" y2="312.80" stroke="#222" stroke-width="1.3"/>
<text x="253.40" y="326.50" class="r" text-anchor="middle" font-size="8.0">1</text>
<line x1="273.00" y1="309.6" x2="273.00" y2="312.80" stroke="#222" stroke-width="1.3"/>
<text x="269.40" y="326.50" class="r" text-anchor="middle" font-size="8.0">10</text>
<path d="M280.60,297.80 L293.10,299.10 L309.00,299.10 L324.80,299.10" fill="none" stroke="#111" stroke-width="1.1"/>
<path d="M280.60,297.80 L293.10,296.70 L309.00,288.60 L324.80,288.60" fill="none" stroke="#111" stroke-width="1.1"/>
<rect x="280.4" y="260.6" width="48.20" height="49.00" fill="none" stroke="#222" stroke-width="1.3"/>
<text x="304" y="274.80" class="b" text-anchor="middle" font-weight="bold" font-size="8.8">SBN</text>
<circle cx="280.6" cy="297.8" r="2.05" fill="#fff" stroke="#111" stroke-width="1.1"/>
<circle cx="293.1" cy="296.7" r="2.05" fill="#fff" stroke="#111" stroke-width="1.1"/>
<circle cx="309" cy="288.6" r="2.05" fill="#fff" stroke="#111" stroke-width="1.1"/>
<circle cx="324.8" cy="288.6" r="2.05" fill="#fff" stroke="#111" stroke-width="1.1"/>
<rect x="278.50" y="295.50" width="4" height="4" fill="#fff" stroke="#111" stroke-width="1.05"/>
<rect x="291.50" y="297.50" width="4" height="4" fill="#fff" stroke="#111" stroke-width="1.05"/>
<rect x="307.50" y="297.50" width="4" height="4" fill="#fff" stroke="#111" stroke-width="1.05"/>
<rect x="322.50" y="297.50" width="4" height="4" fill="#fff" stroke="#111" stroke-width="1.05"/>
<line x1="280.40" y1="309.6" x2="280.40" y2="312.80" stroke="#222" stroke-width="1.3"/>
<text x="280.40" y="326.20" class="r" text-anchor="middle" font-size="8.0">0</text>
<line x1="296.47" y1="309.6" x2="296.47" y2="312.80" stroke="#222" stroke-width="1.3"/>
<text x="295.20" y="326.20" class="r" text-anchor="middle" font-size="8.0">0.1</text>
<line x1="312.53" y1="309.6" x2="312.53" y2="312.80" stroke="#222" stroke-width="1.3"/>
<text x="311.90" y="326.20" class="r" text-anchor="middle" font-size="8.0">1</text>
<line x1="328.60" y1="309.6" x2="328.60" y2="312.80" stroke="#222" stroke-width="1.3"/>
<text x="327.70" y="326.20" class="r" text-anchor="middle" font-size="8.0">10</text>
<text x="59.50" y="152.50" class="r" text-anchor="middle" font-size="8.8">Ab μg/mL</text>
<text x="113.50" y="152.40" class="r" text-anchor="middle" font-size="8.8">Ab μg/mL</text>
<text x="170.50" y="152.30" class="r" text-anchor="middle" font-size="8.8">Ab μg/mL</text>
<text x="245.30" y="152.40" class="r" text-anchor="middle" font-size="8.8">Ab μg/mL</text>
<text x="303.70" y="152.60" class="r" text-anchor="middle" font-size="8.8">Ab μg/mL</text>
<text x="362.50" y="98.00" class="r" text-anchor="middle" font-size="8.8">Ab μg/mL</text>
<text x="436.70" y="98.00" class="r" text-anchor="middle" font-size="8.8">Ab μg/mL</text>
<text x="170.60" y="277.30" class="r" text-anchor="middle" font-size="8.8">Ab μg/mL</text>
<text x="60.20" y="336.30" class="r" text-anchor="middle" font-size="8.8">Ab μg/mL</text>
<text x="113.90" y="336.30" class="r" text-anchor="middle" font-size="8.8">Ab μg/mL</text>
<text x="249.80" y="340.00" class="r" text-anchor="middle" font-size="8.8">Ab μg/mL</text>
<text x="303.30" y="339.40" class="r" text-anchor="middle" font-size="8.8">Abμg/mL</text>
<text x="115.5" y="9.8" class="b" text-anchor="middle" font-weight="bold" font-size="10.6">t(11;14)</text>
<text x="302" y="9.8" class="b" text-anchor="middle" font-weight="bold" font-size="10.6">t(4;14)</text>
<text x="436.2" y="9.8" class="b" text-anchor="middle" font-weight="bold" font-size="10.6">t(6;14)</text>
<text x="491.3" y="9.8" class="b" text-anchor="middle" font-weight="bold" font-size="10.6">t(12;14)</text>
<text x="109.6" y="194.8" class="b" text-anchor="middle" font-weight="bold" font-size="10.6">t(14;16)</text>
<text x="276.5" y="194.8" class="b" text-anchor="middle" font-weight="bold" font-size="10.6">(GL)</text>
<text transform="translate(8.88,65.6) rotate(-90)" class="r" text-anchor="middle" font-size="9.0">dead cells (%)</text>
<text transform="translate(9.16,256) rotate(-90)" class="r" text-anchor="middle" font-size="8.0">dead cells (%)</text>
</g>
</svg>
</body></html>
